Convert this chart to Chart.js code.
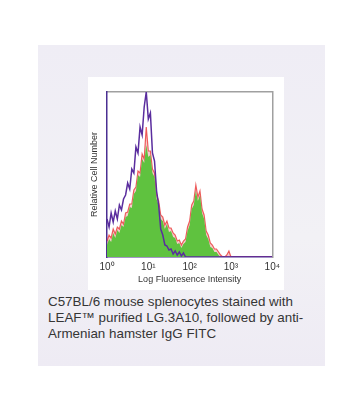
<!DOCTYPE html>
<html>
<head>
<meta charset="utf-8">
<script src="https://cdn.jsdelivr.net/npm/chart.js@4/dist/chart.umd.min.js"></script>
<style>
  html, body { margin: 0; padding: 0; background: #fff; }
  body { width: 354px; height: 417px; position: relative; overflow: hidden;
         font-family: "Liberation Sans", Arial, sans-serif; }
  #panel { position: absolute; left: 38px; top: 45px; width: 287px; height: 321px;
           background: linear-gradient(180deg, #efedf5 0%, #f2f1f5 60%, #eeebf4 100%); }
  #plotBox { position: absolute; left: 88px; top: 77px; width: 196px; height: 213px; background: #fff; }
  #caption { position: absolute; left: 48px; top: 294px; width: 280px;
             font-size: 13.4px; line-height: 16px; color: #353535; }
</style>
</head>
<body>
<div id="panel"></div>
<div id="plotBox"><canvas id="histo" width="196" height="213"></canvas></div>
<div id="caption">C57BL/6 mouse splenocytes stained with LEAF™ purified LG.3A10, followed by anti-Armenian hamster IgG FITC</div>

<script>
// log10 fluorescence bins (decades)
const logBins = [
  0.00, 0.05, 0.10, 0.15, 0.20, 0.25, 0.30, 0.35, 0.40, 0.45,
  0.50, 0.55, 0.60, 0.65, 0.70, 0.75, 0.80, 0.85, 0.90, 0.95,
  1.00, 1.05, 1.10, 1.15, 1.20, 1.25, 1.30, 1.35, 1.40, 1.45,
  1.50, 1.55, 1.60, 1.65, 1.70, 1.75, 1.80, 1.85, 1.90, 1.95,
  2.00, 2.05, 2.10, 2.15, 2.20, 2.25, 2.30, 2.35, 2.40, 2.45,
  2.50, 2.55, 2.60, 2.65, 2.70, 2.75, 2.80, 2.85, 2.90, 2.95,
  3.00, 3.05, 3.10, 3.15, 3.20, 3.25, 3.30, 3.35, 3.40, 3.45,
  3.50, 3.55, 3.60, 3.65, 3.70, 3.75, 3.80, 3.85, 3.90, 3.95,
  4.00
];

// control (purple outline)
const controlCounts = [
  38, 30, 44, 35, 46, 38, 52, 47, 58, 62,
  74, 68, 88, 84, 110, 104, 130, 122, 150, 165,
  138, 144, 104, 96, 66, 52, 28, 22, 12, 11,
  7, 8, 3, 6, 2, 5, 1, 4, 0, 0,
  0, 0, 0, 0, 0, 0, 0, 0, 0, 0,
  0, 0, 0, 0, 0, 0, 0, 0, 0, 0,
  0, 0, 0, 0, 0, 0, 0, 0, 0, 0,
  0, 0, 0, 0, 0, 0, 0, 0, 0, 0,
  0
];

// LG.3A10 stained (green fill)
const stainedCounts = [
  12, 18, 15, 24, 19, 27, 24, 32, 30, 40,
  41, 50, 49, 63, 66, 82, 80, 98, 94, 112,
  100, 102, 84, 80, 58, 52, 38, 36, 28, 33,
  25, 26, 20, 19, 13, 14, 9, 13, 15, 26,
  32, 48, 52, 66, 56, 62, 44, 38, 22, 18,
  10, 9, 5, 5, 2, 0, 0, 0, 0, 0,
  0, 0, 0, 0, 0, 0, 0, 0, 0, 0,
  0, 0, 0, 0, 0, 0, 0, 0, 0, 0,
  0
];

// second stained overlay (red outline)
const overlayCounts = [
  16, 22, 19, 28, 23, 30, 28, 36, 33, 44,
  45, 53, 53, 67, 70, 86, 84, 103, 98, 130,
  106, 106, 88, 84, 62, 56, 42, 40, 32, 36,
  29, 29, 24, 22, 16, 17, 12, 16, 18, 30,
  36, 52, 56, 72, 60, 66, 48, 42, 26, 22,
  14, 12, 8, 8, 5, 2, 0, 0, 2, 6,
  0, 0, 0, 0, 0, 0, 0, 0, 0, 0,
  0, 0, 0, 0, 0, 0, 0, 0, 0, 0,
  0
];

const tickLabels = ["10⁰", "10¹", "10²", "10³", "10⁴"];

const toPoints = arr => arr.map((v, i) => ({ x: logBins[i], y: v }));

const axisFont = { family: "'Liberation Sans', Arial, sans-serif", size: 9 };

new Chart(document.getElementById("histo"), {
  type: "line",
  data: {
    datasets: [
      {
        label: "Control",
        data: toPoints(controlCounts),
        borderColor: "#5a2d9e",
        borderWidth: 1.5,
        pointRadius: 0,
        tension: 0,
        fill: false,
      },
      {
        label: "LG.3A10",
        data: toPoints(stainedCounts),
        borderColor: "rgba(0,0,0,0)",
        borderWidth: 0,
        backgroundColor: "#5fc23f",
        pointRadius: 0,
        tension: 0,
        fill: "origin",
      },
      {
        label: "Overlay",
        data: toPoints(overlayCounts),
        borderColor: "rgba(232,45,45,0.75)",
        borderWidth: 1.2,
        backgroundColor: "rgba(240,140,140,0.45)",
        pointRadius: 0,
        tension: 0,
        fill: "origin",
      },
    ],
  },
  options: {
    responsive: false,
    animation: false,
    layout: { padding: { top: 15, right: 9, left: 0, bottom: 0 } },
    plugins: { legend: { display: false }, tooltip: { enabled: false } },
    scales: {
      x: {
        type: "linear",
        position: "bottom",
        min: 0,
        max: 4,
        grid: { display: false, drawTicks: false },
        border: { color: "#4b2f92", width: 1.5 },
        ticks: {
          stepSize: 1,
          padding: 4,
          color: "#333",
          font: { family: axisFont.family, size: 10 },
          maxRotation: 0,
          callback: v => tickLabels[v],
        },
        title: {
          display: true,
          text: "Log Fluoresence Intensity",
          color: "#333",
          font: axisFont,
          padding: { top: 0, bottom: 5 },
        },
        afterFit: s => { s.height = 33; },
      },
      x2: {
        type: "linear",
        position: "top",
        min: 0,
        max: 4,
        grid: { display: false, drawTicks: false },
        border: { color: "#a0a0a0", width: 1.5 },
        ticks: { display: false },
        afterFit: s => { s.height = 0; },
      },
      y: {
        min: 0,
        max: 165,
        grid: { display: false, drawTicks: false },
        border: { color: "#4b2f92", width: 1.5 },
        ticks: { display: false },
        title: {
          display: true,
          text: "Relative Cell Number",
          color: "#333",
          font: axisFont,
          padding: { top: 1, bottom: 0 },
        },
        afterFit: s => { s.width = 19; },
      },
      y2: {
        position: "right",
        min: 0,
        max: 165,
        grid: { display: false, drawTicks: false },
        border: { color: "#a0a0a0", width: 1.5 },
        ticks: { display: false },
        afterFit: s => { s.width = 0; },
      },
    },
  },
});
</script>
</body>
</html>
